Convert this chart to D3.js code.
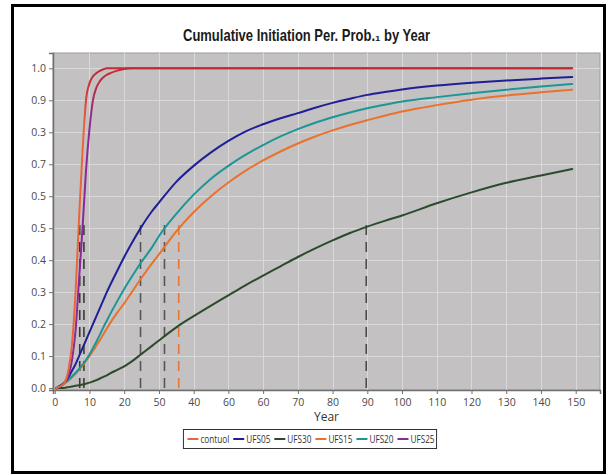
<!DOCTYPE html>
<html>
<head>
<meta charset="utf-8">
<script src="https://cdn.jsdelivr.net/npm/d3@7/dist/d3.min.js"></script>
<style>
  html, body { margin: 0; padding: 0; background: #ffffff; }
  svg { display: block; }
</style>
</head>
<body>
<svg id="chart" width="616" height="475"></svg>
<script>
// Sample years shared by every series
const years = [0.5, 1, 2, 3, 4, 5, 6, 7, 8, 9, 10, 11, 12, 13, 14, 15, 16, 18, 20, 22, 25, 28, 30,
  35, 40, 45, 50, 55, 60, 65, 70, 75, 80, 85, 90, 95, 100, 110, 120, 130, 140, 149];

// Cumulative initiation probability per series
const contuol = [0, 0.003, 0.008, 0.02, 0.06, 0.14, 0.3, 0.53, 0.74, 0.9, 0.953, 0.975, 0.985, 0.992, 0.997, 1.0, 1.0, 1.0, 1.0, 1.0, 1.0, 1.0, 1.0,
  1.0, 1.0, 1.0, 1.0, 1.0, 1.0, 1.0, 1.0, 1.0, 1.0, 1.0, 1.0, 1.0, 1.0, 1.0, 1.0, 1.0, 1.0, 1.0];
const ufs05 = [0, 0.004, 0.01, 0.02, 0.035, 0.055, 0.075, 0.1, 0.125, 0.15, 0.175, 0.2, 0.225, 0.25, 0.275, 0.3, 0.323, 0.367, 0.41, 0.45, 0.505, 0.553, 0.58,
  0.645, 0.695, 0.737, 0.773, 0.803, 0.825, 0.844, 0.86, 0.877, 0.892, 0.905, 0.917, 0.926, 0.934, 0.946, 0.955, 0.962, 0.968, 0.973];
const ufs30 = [0, 0, 0, 0.001, 0.003, 0.005, 0.007, 0.009, 0.011, 0.014, 0.017, 0.021, 0.025, 0.03, 0.035, 0.04, 0.046, 0.057, 0.068, 0.082, 0.107, 0.132, 0.149,
  0.19, 0.225, 0.258, 0.29, 0.322, 0.352, 0.381, 0.41, 0.437, 0.462, 0.485, 0.505, 0.523, 0.54, 0.578, 0.612, 0.642, 0.665, 0.685];
const ufs15 = [0, 0.003, 0.008, 0.015, 0.024, 0.034, 0.045, 0.057, 0.07, 0.085, 0.1, 0.116, 0.133, 0.15, 0.168, 0.186, 0.204, 0.236, 0.265, 0.297, 0.345, 0.39, 0.418,
  0.49, 0.55, 0.6, 0.643, 0.68, 0.712, 0.74, 0.765, 0.787, 0.806, 0.823, 0.838, 0.852, 0.865, 0.885, 0.902, 0.915, 0.925, 0.933];
const ufs20 = [0, 0.004, 0.01, 0.018, 0.027, 0.037, 0.048, 0.06, 0.073, 0.088, 0.105, 0.125, 0.145, 0.167, 0.19, 0.211, 0.232, 0.272, 0.31, 0.345, 0.395, 0.44, 0.475,
  0.545, 0.605, 0.655, 0.695, 0.73, 0.76, 0.787, 0.81, 0.83, 0.847, 0.862, 0.875, 0.886, 0.896, 0.91, 0.922, 0.933, 0.943, 0.951];
const ufs25 = [0, 0.003, 0.008, 0.02, 0.04, 0.09, 0.18, 0.34, 0.5, 0.68, 0.81, 0.9, 0.94, 0.96, 0.972, 0.98, 0.985, 0.993, 0.998, 1.0, 1.0, 1.0, 1.0,
  1.0, 1.0, 1.0, 1.0, 1.0, 1.0, 1.0, 1.0, 1.0, 1.0, 1.0, 1.0, 1.0, 1.0, 1.0, 1.0, 1.0, 1.0, 1.0];

// Legend order and names
const seriesNames = ["contuol", "UFS05", "UFS30", "UFS15", "UFS20", "UFS25"];
const seriesValues = [contuol, ufs05, ufs30, ufs15, ufs20, ufs25];

// Year at which each series reaches a probability of 0.5 (median marker)
const medianYears = [7.2, 24.7, 89.7, 35.7, 31.6, 8.4];
const medianLevel = 0.5;

// Axis ticks and their printed labels
const xTicks = [0, 10, 20, 30, 40, 50, 60, 70, 80, 90, 100, 110, 120, 130, 140, 150];
const xTickLabels = ["0", "10", "20", "50", "40", "60", "60", "70", "80", "90", "100", "110", "120", "130", "140", "150"];
const yTicks = [0, 0.1, 0.2, 0.3, 0.4, 0.5, 0.6, 0.7, 0.8, 0.9, 1.0];
const yTickLabels = ["0.0", "0.1", "0.2", "0.3", "0.4", "0.5", "0.5", "0.7", "0.3", "0.9", "1.0"];

const titleText = "Cumulative Initiation Per. Prob.\u2081 by Year";
const xTitle = "Year";

// ---- styling ----
const lineColors = {
  contuol: "#e8663a", UFS05: "#1f1f96", UFS30: "#2c4a2c",
  UFS15: "#e8722e", UFS20: "#1c9696", UFS25: "#8a2a98"
};
const dashColors = {
  contuol: "#3a3a3a", UFS05: "#555555", UFS30: "#4a4a4a",
  UFS15: "#e07a3a", UFS20: "#555555", UFS25: "#3a3a3a"
};
const topRed = "#c42a36";
const labelFont = "'Open Sans', 'DejaVu Sans', sans-serif";

const svg = d3.select("#chart");
const plot = { left: 53, right: 600, top: 53, bottom: 390 };

// Outer frame
svg.append("rect")
  .attr("x", 12.5).attr("y", 5.5).attr("width", 592).attr("height", 467)
  .attr("fill", "#ffffff").attr("stroke", "#000").attr("stroke-width", 3);

const x = d3.scaleLinear().domain([-0.5, 157]).range([plot.left, plot.right]);
const y = d3.scaleLinear().domain([-0.006, 1.048]).range([plot.bottom, plot.top]);

// Plot background
svg.append("rect")
  .attr("x", plot.left).attr("y", plot.top)
  .attr("width", plot.right - plot.left).attr("height", plot.bottom - plot.top)
  .attr("fill", "#c3c1c2").attr("stroke", "#9e9c9d").attr("stroke-width", 1);

// Grid
const grid = svg.append("g").attr("stroke", "#dad9d9").attr("stroke-width", 1);
grid.selectAll("line.v").data(xTicks.filter(d => d > 0)).join("line")
  .attr("x1", d => Math.round(x(d)) + 0.5).attr("x2", d => Math.round(x(d)) + 0.5)
  .attr("y1", plot.top).attr("y2", plot.bottom);
grid.selectAll("line.h").data(yTicks.filter(d => d > 0)).join("line")
  .attr("y1", d => Math.round(y(d)) + 0.5).attr("y2", d => Math.round(y(d)) + 0.5)
  .attr("x1", plot.left).attr("x2", plot.right);

// Axes
const xAxis = d3.axisBottom(x).tickValues(xTicks)
  .tickFormat((d, i) => xTickLabels[i]).tickSizeOuter(0).tickSize(4).tickPadding(5);
const yAxis = d3.axisLeft(y).tickValues(yTicks)
  .tickFormat((d, i) => yTickLabels[i]).tickSizeOuter(0).tickSize(4).tickPadding(3);

const gx = svg.append("g").attr("transform", `translate(0,${plot.bottom})`).call(xAxis);
const gy = svg.append("g").attr("transform", `translate(${plot.left},0)`).call(yAxis);
[gx, gy].forEach(g => {
  g.select(".domain").attr("stroke", "#707070").attr("stroke-width", 1.5);
  g.selectAll(".tick line").attr("stroke", "#707070");
  g.selectAll(".tick text").attr("fill", "#4a4a4a")
    .style("font-family", labelFont).style("font-size", "10.5px");
});

// Gradients turning the steep curves red where they saturate
const defs = svg.append("defs");
function topGradient(id, base) {
  const g = defs.append("linearGradient").attr("id", id)
    .attr("gradientUnits", "userSpaceOnUse")
    .attr("x1", 0).attr("x2", 0).attr("y1", y(0)).attr("y2", y(1));
  g.append("stop").attr("offset", 0).attr("stop-color", base);
  g.append("stop").attr("offset", 0.82).attr("stop-color", base);
  g.append("stop").attr("offset", 0.97).attr("stop-color", topRed);
  g.append("stop").attr("offset", 1).attr("stop-color", topRed);
}
topGradient("gradContuol", lineColors.contuol);
topGradient("gradUfs25", lineColors.UFS25);
const strokeFor = {
  contuol: "url(#gradContuol)", UFS25: "url(#gradUfs25)"
};

// Median markers
const medians = svg.append("g");
seriesNames.forEach((name, i) => {
  medians.append("line")
    .attr("x1", x(medianYears[i])).attr("x2", x(medianYears[i]))
    .attr("y1", y(0)).attr("y2", y(medianLevel + 0.01))
    .attr("stroke", dashColors[name]).attr("stroke-width", 1.6)
    .attr("stroke-dasharray", "10,7");
});

// Series lines
const line = d3.line()
  .x((d, i) => x(years[i]))
  .y(d => y(d))
  .curve(d3.curveMonotoneX);

const drawOrder = [2, 3, 4, 1, 5, 0];
const lines = svg.append("g").attr("fill", "none").attr("stroke-width", 2)
  .attr("stroke-linejoin", "round").attr("stroke-linecap", "round");
drawOrder.forEach(i => {
  const name = seriesNames[i];
  lines.append("path")
    .attr("d", line(seriesValues[i]))
    .attr("stroke", strokeFor[name] || lineColors[name]);
});

// Title
svg.append("text")
  .attr("x", 306.5).attr("y", 41)
  .attr("text-anchor", "middle")
  .attr("fill", "#1a1a1a")
  .attr("textLength", 247).attr("lengthAdjust", "spacingAndGlyphs")
  .style("font-family", "'Liberation Sans Narrow', 'Arial Narrow', 'Liberation Sans', sans-serif")
  .style("font-weight", "bold").style("font-size", "16.5px")
  .text(titleText);

// X axis title
svg.append("text")
  .attr("x", (plot.left + plot.right) / 2).attr("y", 421)
  .attr("text-anchor", "middle").attr("fill", "#333")
  .style("font-family", labelFont).style("font-size", "12px")
  .text(xTitle);

// Legend
const legend = svg.append("g");
let cursor = 0;
seriesNames.forEach(name => {
  const g = legend.append("g").attr("transform", `translate(${cursor},0)`);
  g.append("line").attr("x1", 0).attr("x2", 11).attr("y1", 0).attr("y2", 0)
    .attr("stroke", lineColors[name]).attr("stroke-width", 2);
  const t = g.append("text").attr("x", 13).attr("y", 3.5)
    .attr("fill", "#333").style("font-family", labelFont).style("font-size", "10.5px")
    .text(name);
  const natural = t.node().getComputedTextLength();
  const squeezed = natural * 0.78;
  t.attr("textLength", squeezed).attr("lengthAdjust", "spacingAndGlyphs");
  cursor += 13 + squeezed + 4;
});
const legendW = cursor + 2;
const legendX = 310 - legendW / 2;
const legendY = 439;
legend.attr("transform", `translate(${legendX + 4},${legendY})`);
svg.insert("rect", () => legend.node())
  .attr("x", legendX).attr("y", legendY - 9.5).attr("width", legendW).attr("height", 19)
  .attr("fill", "#fff").attr("stroke", "#333").attr("stroke-width", 1);
</script>
</body>
</html>
